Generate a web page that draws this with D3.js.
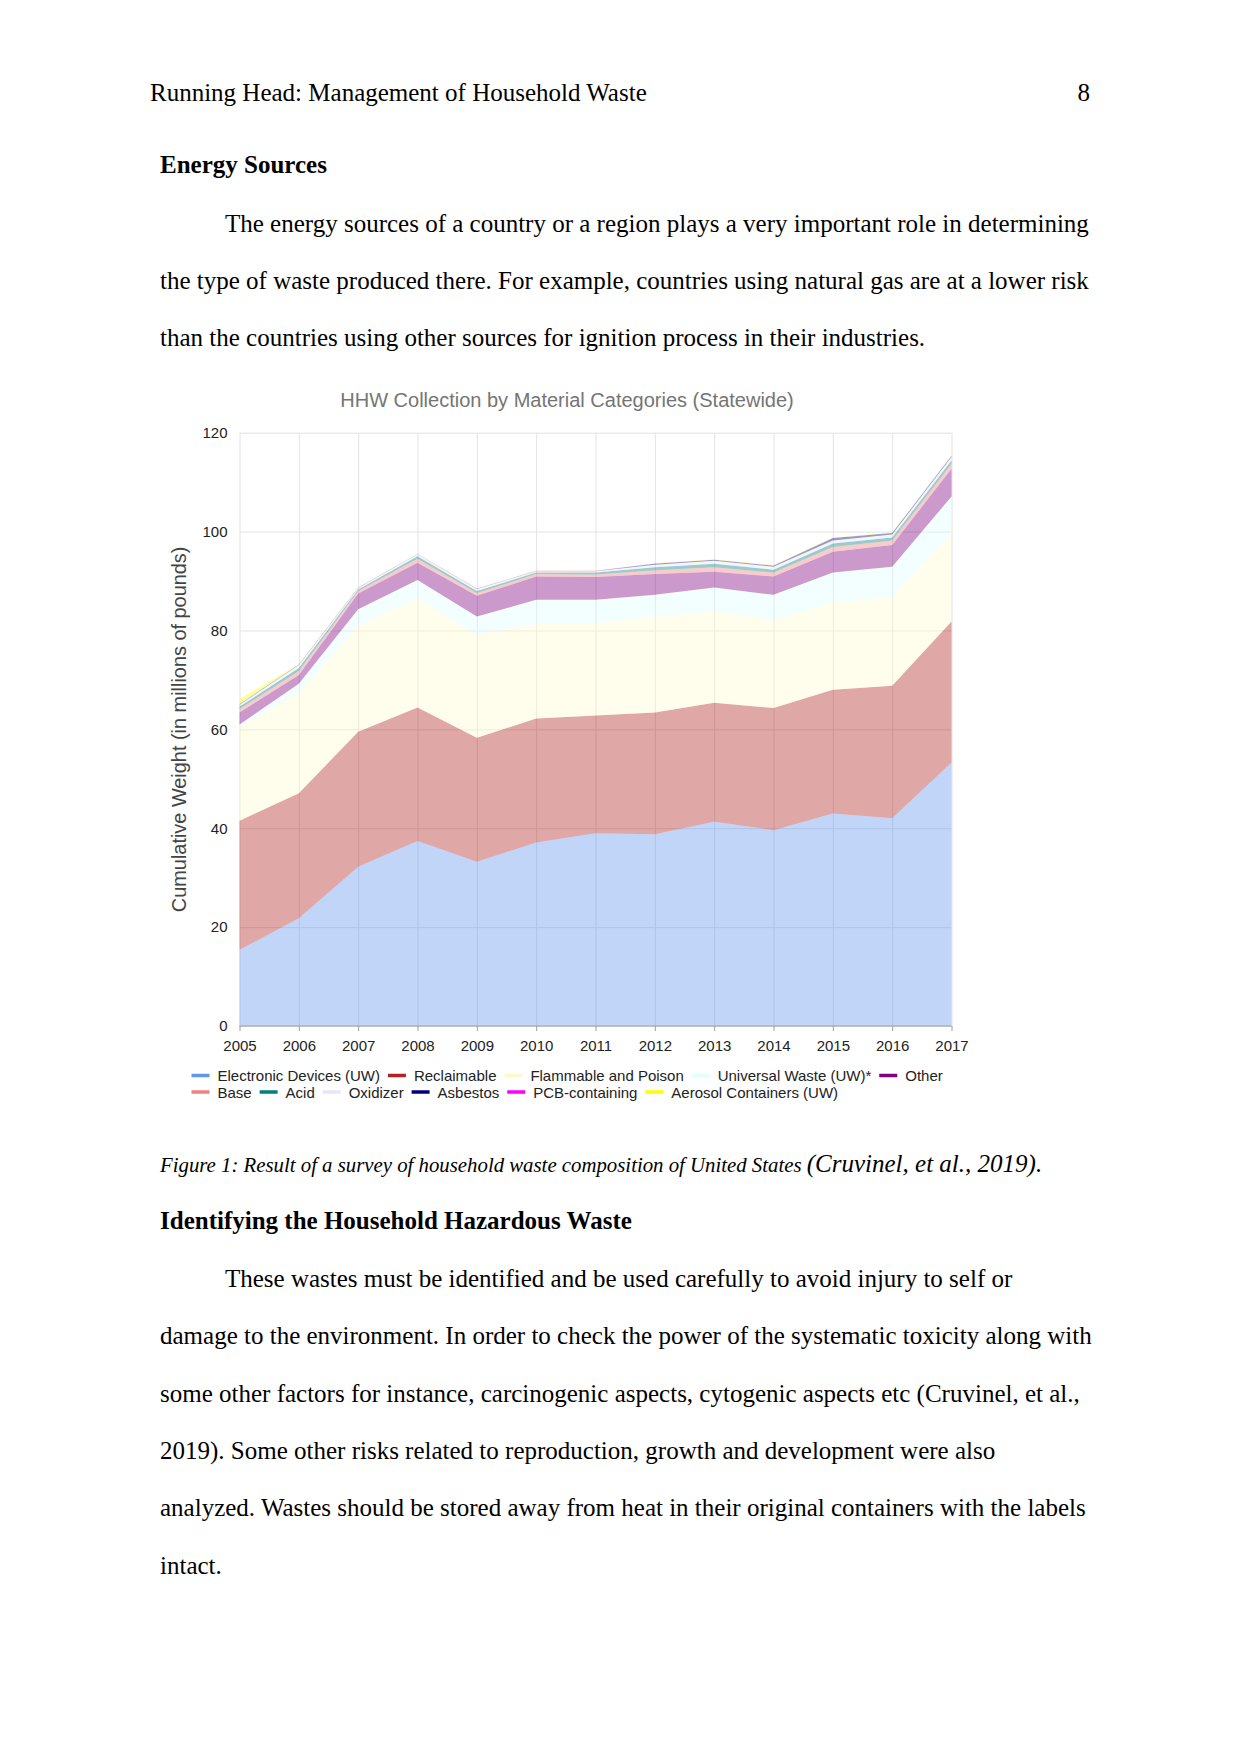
<!DOCTYPE html>
<html>
<head>
<meta charset="utf-8">
<script src="https://cdn.jsdelivr.net/npm/d3@7"></script>
<style>
  html, body { margin: 0; padding: 0; background: #fff; }
  svg { display: block; }
  .page { font-family: "Liberation Serif", "Times New Roman", serif; fill: #000; }
  .chart text { font-family: "Liberation Sans", Arial, sans-serif; }
</style>
</head>
<body>
<svg id="page" width="1242" height="1757"></svg>
<script>
// ---------------- data ----------------
const years = [2005, 2006, 2007, 2008, 2009, 2010, 2011, 2012, 2013, 2014, 2015, 2016, 2017];
const seriesNames = ["Electronic Devices (UW)", "Reclaimable", "Flammable and Poison", "Universal Waste (UW)*", "Other",
                     "Base", "Acid", "Oxidizer", "Asbestos", "PCB-containing", "Aerosol Containers (UW)"];
const electronicDevices = [15.4, 21.8, 32.2, 37.4, 33.2, 37.1, 39.0, 38.8, 41.3, 39.6, 43.0, 42.0, 53.3];
const reclaimable       = [26.1, 25.3, 27.3, 27.0, 25.1, 25.1, 23.8, 24.6, 24.1, 24.7, 25.0, 26.8, 28.5];
const flammablePoison   = [18.8, 20.4, 21.3, 22.1, 20.8, 19.2, 18.6, 19.4, 18.4, 17.8, 17.6, 18.0, 17.8];
const universalWaste    = [0.7, 1.7, 3.5, 3.7, 3.7, 4.8, 4.8, 4.4, 4.9, 5.1, 6.1, 6.1, 7.5];
const other             = [2.4, 1.8, 3.2, 3.5, 4.2, 4.7, 4.6, 4.2, 3.2, 3.7, 4.2, 4.4, 5.6];
const base              = [0.7, 0.8, 0.5, 0.8, 0.6, 0.5, 0.5, 0.8, 0.9, 0.8, 1.0, 0.9, 1.0];
const acid              = [0.5, 0.6, 0.3, 0.5, 0.4, 0.3, 0.4, 0.6, 0.7, 0.6, 0.7, 0.6, 0.7];
const oxidizer          = [0.4, 0.6, 0.3, 0.4, 0.4, 0.3, 0.3, 0.5, 0.6, 0.6, 0.6, 0.6, 0.7];
const asbestos          = [0.1, 0.1, 0.05, 0.05, 0.05, 0.05, 0.05, 0.2, 0.2, 0.2, 0.5, 0.3, 0.2];
const pcbContaining     = [0.02, 0.02, 0.02, 0.02, 0.02, 0.02, 0.02, 0.02, 0.02, 0.02, 0.02, 0.02, 0.02];
const aerosolContainers = [1.0, 0.1, 0.05, 0.05, 0.05, 0.05, 0.05, 0.1, 0.1, 0.1, 0.1, 0.1, 0.1];
const yTicks = [0, 20, 40, 60, 80, 100, 120];

const seriesValues = [electronicDevices, reclaimable, flammablePoison, universalWaste, other,
                      base, acid, oxidizer, asbestos, pcbContaining, aerosolContainers];
const seriesColors = ["cornflowerblue", "firebrick", "lemonchiffon", "lightcyan", "purple",
                      "lightcoral", "teal", "lavender", "navy", "magenta", "yellow"];

// ---------------- page text ----------------
const svg = d3.select("#page");
svg.append("rect").attr("width", 1242).attr("height", 1757).attr("fill", "#fff");
const page = svg.append("g").attr("class", "page");

function line(txt, x, y, opts = {}) {
  page.append("text").attr("x", x).attr("y", y)
    .attr("font-size", opts.size || 25)
    .attr("font-weight", opts.bold ? "bold" : null)
    .attr("font-style", opts.italic ? "italic" : null)
    .attr("text-anchor", opts.anchor || "start")
    .text(txt);
}
line("Running Head: Management of Household Waste", 150, 101);
line("8", 1090, 101, { anchor: "end" });
line("Energy Sources", 160, 173, { bold: true });
const para1 = [
  "The energy sources of a country or a region plays a very important role in determining",
  "the type of waste produced there. For example, countries using natural gas are at a lower risk",
  "than the countries using other sources for ignition process in their industries."
];
para1.forEach((t, i) => line(t, i === 0 ? 225 : 160, 231.5 + i * 57.2));

const cap = page.append("text").attr("x", 160).attr("y", 1172).attr("font-style", "italic");
cap.append("tspan").attr("font-size", 20.8).text("Figure 1: Result of a survey of household waste composition of United States ");
cap.append("tspan").attr("font-size", 25).text("(Cruvinel, et al., 2019).");

line("Identifying the Household Hazardous Waste", 160, 1229, { bold: true });
const para2 = [
  "These wastes must be identified and be used carefully to avoid injury to self or",
  "damage to the environment. In order to check the power of the systematic toxicity along with",
  "some other factors for instance, carcinogenic aspects, cytogenic aspects etc (Cruvinel, et al.,",
  "2019). Some other risks related to reproduction, growth and development were also",
  "analyzed. Wastes should be stored away from heat in their original containers with the labels",
  "intact."
];
para2.forEach((t, i) => line(t, i === 0 ? 225 : 160, 1287 + i * 57.3));

// ---------------- chart ----------------
const chart = svg.append("g").attr("class", "chart");
const x = d3.scaleLinear().domain([2005, 2017]).range([239.5, 951.5]);
const y = d3.scaleLinear().domain([0, 120]).range([1026, 432.7]);

// gridlines
chart.append("g")
  .attr("transform", `translate(${x.range()[0]},0)`)
  .call(d3.axisLeft(y).tickValues(yTicks).tickSize(-(x.range()[1] - x.range()[0])).tickFormat(""))
  .call(g => g.select(".domain").remove())
  .call(g => g.selectAll("line").attr("stroke", "#e3e3e3"));
chart.append("g")
  .attr("transform", `translate(0,${y(120)})`)
  .call(d3.axisBottom(x).tickValues(years).tickSize(y(0) - y(120)).tickFormat(""))
  .call(g => g.select(".domain").remove())
  .call(g => g.selectAll("line").attr("stroke", "#e3e3e3"));

// stacked areas
const table = years.map((yr, i) => {
  const row = { year: yr };
  seriesNames.forEach((n, k) => row[n] = seriesValues[k][i]);
  return row;
});
const stacked = d3.stack().keys(seriesNames)(table);
const area = d3.area()
  .x(d => x(d.data.year))
  .y0(d => y(d[0]))
  .y1(d => y(d[1]));
chart.append("g").selectAll("path").data(stacked).join("path")
  .attr("d", area)
  .attr("fill", (d, i) => seriesColors[i])
  .attr("fill-opacity", 0.4)
  .attr("stroke", "none");

// baseline + x axis
chart.append("g")
  .attr("transform", `translate(0,${y(0)})`)
  .call(d3.axisBottom(x).tickValues(years).tickFormat(d3.format("d")).tickSize(5).tickPadding(9))
  .call(g => g.select(".domain").attr("stroke", "#9e9e9e").attr("d", `M${x.range()[0]},0H${x.range()[1]}`))
  .call(g => g.selectAll(".tick line").attr("stroke", "#9e9e9e"))
  .call(g => g.selectAll(".tick text").attr("font-size", 15).attr("fill", "#222").attr("font-family", "Liberation Sans, Arial, sans-serif"));

// y axis labels
chart.append("g")
  .attr("transform", `translate(${x.range()[0]},0)`)
  .call(d3.axisLeft(y).tickValues(yTicks).tickSize(0).tickPadding(12))
  .call(g => g.select(".domain").remove())
  .call(g => g.selectAll(".tick text").attr("font-size", 15).attr("fill", "#222").attr("font-family", "Liberation Sans, Arial, sans-serif"));

// title
chart.append("text")
  .attr("x", 567).attr("y", 407)
  .attr("text-anchor", "middle")
  .attr("font-size", 20).attr("fill", "#757575")
  .text("HHW Collection by Material Categories (Statewide)");

// y axis title
chart.append("text")
  .attr("transform", `translate(185.5,${(y(0) + y(120)) / 2}) rotate(-90)`)
  .attr("text-anchor", "middle")
  .attr("font-size", 19.9).attr("fill", "#444")
  .text("Cumulative Weight (in millions of pounds)");

// legend
const legend = chart.append("g");
const rowSplit = 5;
const rowY = [1075.5, 1092];
let cursor = [191.5, 191.5];
seriesNames.forEach((n, i) => {
  const r = i < rowSplit ? 0 : 1;
  const g = legend.append("g").attr("transform", `translate(${cursor[r]},${rowY[r]})`);
  g.append("line").attr("x1", 0).attr("x2", 18).attr("y1", 0).attr("y2", 0)
    .attr("stroke", seriesColors[i]).attr("stroke-width", 3.5);
  const t = g.append("text").attr("x", 26).attr("y", 5.5)
    .attr("font-size", 15).attr("fill", "#222").text(n);
  cursor[r] += 26 + t.node().getComputedTextLength() + 7.9;
});
</script>
</body>
</html>
